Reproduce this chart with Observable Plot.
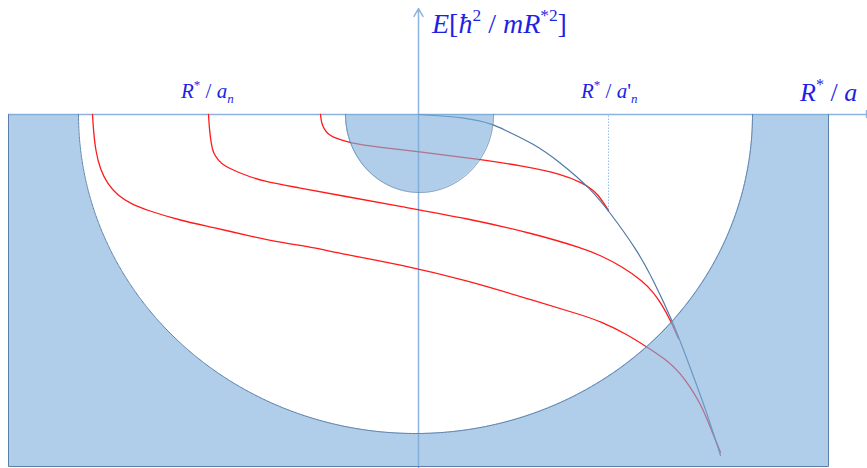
<!DOCTYPE html>
<html><head><meta charset="utf-8">
<script src="https://cdn.jsdelivr.net/npm/d3@7"></script>
<script src="https://cdn.jsdelivr.net/npm/@observablehq/plot@0.6"></script>
<style>body{margin:0;background:#fff;overflow:hidden} #chart svg{display:block}</style>
</head><body><div id="chart"></div>
<script>
// Units: x = R*/a (arbitrary), y = E (arbitrary); origin at axes crossing.
// Red spectrum curves
const curveA_x = [-0.98,-0.97,-0.94,-0.91,-0.85,-0.78,-0.71,-0.38,-0.01,0.62,1.02,1.42,1.65,1.72,1.79,1.90];
const curveA_y = [0,-0.09,-0.15,-0.19,-0.23,-0.25,-0.28,-0.33,-0.37,-0.45,-0.51,-0.59,-0.69,-0.74,-0.79,-0.96];
const curveB_x = [-2.10,-2.09,-2.07,-2.05,-2.00,-1.95,-1.78,-1.55,-1.21,-0.78,-0.18,0.49,1.15,1.65,1.82,2.02,2.25,2.35,2.44,2.52,2.60];
const curveB_y = [0,-0.16,-0.31,-0.39,-0.46,-0.51,-0.59,-0.67,-0.73,-0.81,-0.92,-1.04,-1.19,-1.34,-1.41,-1.51,-1.67,-1.78,-1.91,-2.06,-2.24];
const curveC_x = [-3.26,-3.25,-3.23,-3.18,-3.11,-3.01,-2.88,-2.71,-2.38,-2.05,-1.71,-1.38,-1.05,-0.78,-0.18,0.49,1.15,1.65,1.82,2.09,2.29,2.49,2.62,2.72,2.82,2.92,3.02];
const curveC_y = [0,-0.16,-0.36,-0.56,-0.69,-0.81,-0.89,-0.96,-1.06,-1.13,-1.21,-1.28,-1.33,-1.39,-1.50,-1.66,-1.86,-2.01,-2.07,-2.20,-2.33,-2.46,-2.59,-2.73,-2.89,-3.13,-3.38];
// Dimer threshold curve (blue)
const dimer_x = [0,0.49,0.75,0.85,1.15,1.42,1.72,1.90,2.19,2.35,2.54,2.72,2.87,3.02];
const dimer_y = [0,-0.03,-0.10,-0.15,-0.29,-0.48,-0.74,-0.96,-1.36,-1.66,-2.06,-2.54,-2.94,-3.41];
// Regions
const frame = {x0: -4.10, x1: 4.10, bottom: -3.52};
const bigHole = {cx: -0.03, rx: 3.37, ry: 3.19};
const smallCap = {cx: 0.01, rx: 0.74, ry: 0.78};
const axisH = {x0: -4.10, x1: 4.48};
const axisV = {y0: -3.54, y1: 1.06};
const markerX = 1.90, markerY = -0.96;
// Labels
const labels = [
  {x: 0.14, y: 0.81, size: 28, parts: [["E","i"],["[","n"],["ħ","i"],["2","sup"],[" / ","n"],["mR","i"],["*2","sup"],["]","n"]]},
  {x: -2.37, y: 0.16, size: 21, parts: [["R","i"],["*","sup"],[" / ","n"],["a","i"],["n","sub"]]},
  {x: 1.63, y: 0.16, size: 21, parts: [["R","i"],["*","sup"],[" / ","n"],["a","i"],["'","n"],["n","sub"]]},
  {x: 3.82, y: 0.13, size: 26, parts: [["R","i"],["*","sup"],[" / ","n"],["a","i"]]}
];

const zip = (xs, ys) => xs.map((x, i) => ({x, y: ys[i]}));
const ellY = (e, x) => { const u = (x - e.cx) / e.rx; return Math.abs(u) < 1 ? -e.ry * Math.sqrt(1 - u * u) : 0; };
const shaded = d3.range(frame.x0, frame.x1 + 1e-9, 0.002).map(x => ({x, y1: frame.bottom, y2: ellY(bigHole, x)}));
const arc = e => d3.range(0, 721).map(i => { const t = Math.PI * (1 - i / 720); return {x: e.cx + e.rx * Math.cos(t), y: -e.ry * Math.sin(t)}; });
const capArea = arc(smallCap).map(d => ({x: d.x, y1: 0, y2: d.y}));

const fillC = "#7badda", outline = "#5a80aa", axisC = "#8db3dc", red = "#ff1a1a", blueC = "#4f78a6";

const plot = Plot.plot({
  width: 867, height: 468,
  marginTop: 0, marginBottom: 0, marginLeft: 0, marginRight: 0,
  x: {domain: [-4.18, 4.49], axis: null},
  y: {domain: [-3.54, 1.14], axis: null},
  marks: [
    Plot.ruleY([0], {x1: axisH.x0, x2: axisH.x1, stroke: axisC, strokeWidth: 1.3}),
    Plot.ruleX([axisH.x1], {y1: -0.04, y2: 0.04, stroke: axisC, strokeWidth: 1.3}),
    Plot.arrow([{}], {x1: 0, y1: axisV.y0, x2: 0, y2: axisV.y1, stroke: axisC, strokeWidth: 1.5, headLength: 9}),
    Plot.ruleX([markerX], {y1: markerY, y2: 0, stroke: "#9dbfe3", strokeWidth: 1, strokeDasharray: "1.5,1.5"}),
    Plot.line(zip(curveC_x, curveC_y), {x: "x", y: "y", stroke: red, strokeWidth: 1.3, curve: "basis"}),
    Plot.line(zip(curveB_x, curveB_y), {x: "x", y: "y", stroke: red, strokeWidth: 1.3, curve: "basis"}),
    Plot.line(zip(curveA_x, curveA_y), {x: "x", y: "y", stroke: red, strokeWidth: 1.3, curve: "basis"}),
    Plot.line(zip(dimer_x, dimer_y), {x: "x", y: "y", stroke: blueC, strokeWidth: 1.2, curve: "basis"}),
    Plot.areaY(shaded, {x: "x", y1: "y1", y2: "y2", fill: fillC, fillOpacity: 0.6}),
    Plot.areaY(capArea, {x: "x", y1: "y1", y2: "y2", fill: fillC, fillOpacity: 0.6}),
    Plot.line(arc(bigHole), {x: "x", y: "y", stroke: outline, strokeWidth: 1}),
    Plot.line(arc(smallCap), {x: "x", y: "y", stroke: outline, strokeWidth: 1}),
    Plot.line([{x: frame.x0, y: 0}, {x: frame.x0, y: frame.bottom}, {x: frame.x1, y: frame.bottom}, {x: frame.x1, y: 0}], {x: "x", y: "y", stroke: outline, strokeWidth: 1})
  ]
});
document.getElementById("chart").append(plot);

const sx = plot.scale("x"), sy = plot.scale("y");
const svg = d3.select(plot);
const g = svg.append("g").attr("font-family", "'Liberation Serif', 'DejaVu Serif', serif").attr("fill", "#1f1fe6").attr("text-anchor", "start");
for (const L of labels) {
  const t = g.append("text").attr("x", sx.apply(L.x)).attr("y", sy.apply(L.y)).attr("font-size", L.size).attr("text-anchor", "start");
  let shift = 0;
  for (const [txt, kind] of L.parts) {
    let target = 0, fs = null, style = "normal";
    if (kind === "i") style = "italic";
    if (kind === "sup") { target = -0.42 * L.size; fs = 0.62 * L.size; }
    if (kind === "sub") { target = 0.22 * L.size; fs = 0.62 * L.size; style = "italic"; }
    const ts = t.append("tspan").text(txt).attr("font-style", style).attr("dy", target - shift);
    if (fs) ts.attr("font-size", fs);
    shift = target;
  }
}
g.selectAll("text").style("white-space", "pre");
</script>
</body></html>
